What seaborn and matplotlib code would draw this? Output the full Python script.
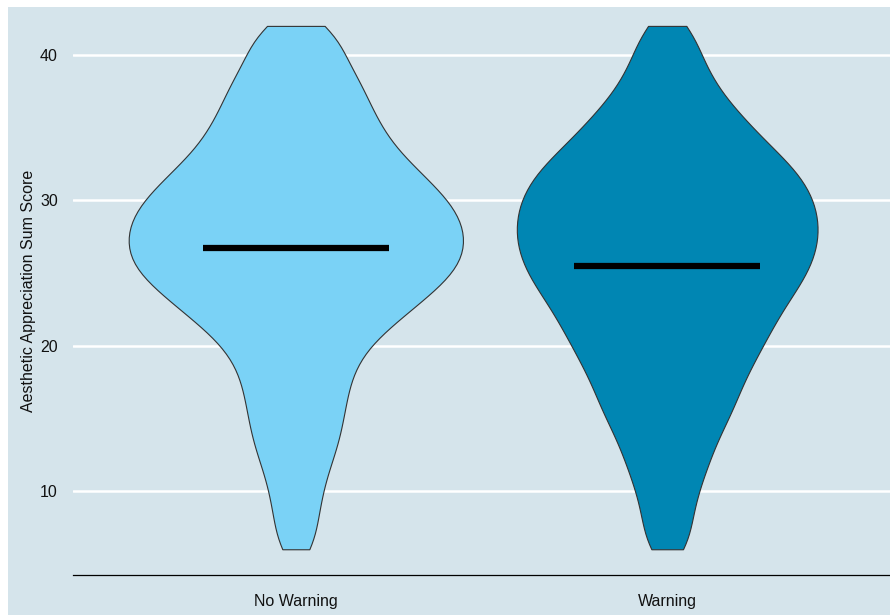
import numpy as np
import pandas as pd
import seaborn as sns
import matplotlib.pyplot as plt
from matplotlib.patches import Rectangle

# data (score frequencies per group)
groups = ['No Warning', 'Warning']
scores = list(range(6, 43))
counts_no_warning = [4, 4, 4, 5, 5, 6, 7, 8, 9, 9,
                     10, 10, 11, 12, 14, 17, 21, 24, 28, 31,
                     33, 33, 33, 32, 30, 27, 24, 21, 18, 17,
                     15, 14, 13, 11, 9, 9, 8]
counts_warning = [5, 4, 5, 5, 6, 7, 8, 9, 10, 12,
                  13, 14, 15, 17, 18, 20, 21, 23, 25, 27,
                  28, 29, 29, 29, 28, 27, 25, 22, 19, 16,
                  14, 11, 9, 8, 6, 6, 5]
group_means = [26.75, 25.5]
y_ticks = [10, 20, 30, 40]

colors = {'No Warning': '#7ad2f6', 'Warning': '#0086b3'}
bg = '#d5e4eb'

df = pd.DataFrame({
    'group': np.repeat(groups, [sum(counts_no_warning), sum(counts_warning)]),
    'score': np.concatenate([np.repeat(scores, counts_no_warning),
                             np.repeat(scores, counts_warning)]),
})

sns.set_theme(style='white')
plt.rcParams['font.family'] = ['Liberation Sans', 'DejaVu Sans']

fig = plt.figure(figsize=(8.9, 6.15), dpi=100)
fig.add_artist(Rectangle((8 / 890, 0), 1, 1 - 7 / 615, transform=fig.transFigure,
                         facecolor=bg, edgecolor='none', zorder=0))
ax = fig.add_axes([73 / 890, 40 / 615, 817 / 890, 568 / 615])
ax.set_facecolor(bg)

# common_norm so both violins share one width scale (like ggplot scale="area")
sns.violinplot(data=df, x='group', y='score', hue='group', order=groups,
               palette=colors, cut=0, inner=None, width=0.9, density_norm='area',
               common_norm=True, bw_method=0.17, linewidth=0.8,
               linecolor='#333333', saturation=1, legend=False, ax=ax)

ax.hlines(group_means, [i - 0.25 for i in range(len(groups))],
          [i + 0.25 for i in range(len(groups))], colors='black', linewidth=4.5,
          zorder=5)

ax.set_xlim(-0.6, 1.6)
ax.set_ylim(4.23, 43.3)
ax.set_yticks(y_ticks)
ax.yaxis.grid(True, color='white', linewidth=1.8)
ax.xaxis.grid(False)
ax.set_axisbelow(True)
for s in ['top', 'right', 'left']:
    ax.spines[s].set_visible(False)
ax.spines['bottom'].set_color('black')
ax.spines['bottom'].set_linewidth(0.9)
ax.tick_params(axis='x', direction='in', length=5, width=0.8, color='black',
               pad=13.5, labelsize=11.5, labelcolor='#111111')
ax.tick_params(axis='y', length=0, pad=11, labelsize=11.5, labelcolor='#111111')
ax.set_xlabel('')
ax.set_ylabel('Aesthetic Appreciation Sum Score', fontsize=11.5, color='#111111')
ax.yaxis.set_label_coords(-0.045, 0.5)

fig.savefig('out.png', dpi=100)
